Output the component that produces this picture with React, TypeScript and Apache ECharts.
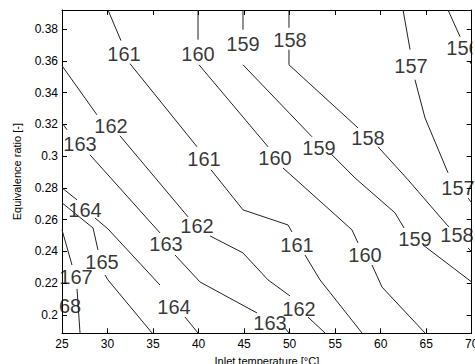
import React, { useEffect, useRef } from "react";
import * as echarts from "echarts";

// Axis ranges and ticks
const xTicks = [25, 30, 35, 40, 45, 50, 55, 60, 65, 70];
const yTicks = [0.2, 0.22, 0.24, 0.26, 0.28, 0.3, 0.32, 0.34, 0.36, 0.38];
const xRange = [25, 70];
const yRange = [0.1885, 0.392];

// Contour lines (segments broken where inline labels sit), [temperature, ratio]
const c156 = [
  [[67.4, 0.392], [68.72, 0.3752]],
  [[69.82, 0.3594], [70, 0.3575]],
];
const c157 = [
  [[62.46, 0.392], [63.23, 0.367]],
  [[63.77, 0.3481], [64.87, 0.3241], [67.4, 0.2895]],
  [[69.6, 0.2737], [70, 0.2706]],
];
const c158 = [
  [[49.93, 0.392], [49.93, 0.3808]],
  [[49.93, 0.367], [49.93, 0.3575], [57.51, 0.3178]],
  [[59.71, 0.3059], [63.01, 0.2851], [67.29, 0.2567], [67.51, 0.2555]],
  [[69.6, 0.2422], [70, 0.2397]],
];
const c159 = [
  [[44.88, 0.392], [44.88, 0.3796]],
  [[44.88, 0.3575], [52.46, 0.3122]],
  [[54.66, 0.3008], [57.18, 0.2863], [61.58, 0.2643], [62.57, 0.2548]],
  [[64.65, 0.2441], [70, 0.2208]],
];
const c160 = [
  [[39.94, 0.392], [39.94, 0.3733]],
  [[40.05, 0.3575], [47.63, 0.3059]],
  [[49.27, 0.2926], [54.66, 0.2649], [56.85, 0.2536], [57.51, 0.2454]],
  [[59.05, 0.2315], [60.15, 0.2176], [64.87, 0.1887]],
];
const c161 = [
  [[30.05, 0.392], [31.48, 0.3727]],
  [[32.47, 0.3582], [39.83, 0.3059]],
  [[41.37, 0.2914], [44.88, 0.2662], [49.82, 0.2567], [50.26, 0.2523]],
  [[51.69, 0.2378], [53.34, 0.2221], [57.95, 0.1887]],
];
const c162 = [
  [[25, 0.3569], [28.84, 0.326]],
  [[31.37, 0.3128], [38.84, 0.2618]],
  [[41.26, 0.2498], [44.88, 0.2391], [47.63, 0.2221], [50.04, 0.212]],
  [[52.02, 0.1987], [53.89, 0.1887]],
];
const c163 = [
  [[25, 0.321], [25.55, 0.3166]],
  [[28.08, 0.3008], [35.76, 0.2517]],
  [[37.41, 0.2378], [40.16, 0.2208], [46.42, 0.2013]],
  [[49.49, 0.1918], [49.93, 0.1887]],
];
const c164 = [
  [[25, 0.28], [26.65, 0.2725]],
  [[28.62, 0.2611], [30.05, 0.2542], [35.76, 0.2189]],
  [[38.51, 0.1987], [39.94, 0.1887]],
];
const c165 = [
  [[25, 0.2706], [28.41, 0.2548], [28.95, 0.241]],
  [[29.72, 0.2252], [30.05, 0.2221], [34.89, 0.1887]],
];
const c167 = [
  [[25, 0.2536], [26.1, 0.2315]],
  [[26.65, 0.2164], [26.98, 0.1887]],
];

// Inline contour labels: [temperature, ratio, text]
const contourLabels = [
  [31.81, 0.3645, "161"],
  [39.94, 0.3645, "160"],
  [44.88, 0.3708, "159"],
  [50.04, 0.3733, "158"],
  [63.33, 0.3569, "157"],
  [69.04, 0.3682, "156"],
  [30.38, 0.3191, "162"],
  [26.98, 0.3078, "163"],
  [40.6, 0.2983, "161"],
  [48.4, 0.2989, "160"],
  [53.23, 0.3052, "159"],
  [58.61, 0.3115, "158"],
  [27.53, 0.2662, "164"],
  [39.83, 0.2561, "162"],
  [36.42, 0.2447, "163"],
  [29.39, 0.2334, "165"],
  [26.54, 0.2239, "167"],
  [25.88, 0.2057, "68"],
  [37.3, 0.205, "164"],
  [68.5, 0.28, "157"],
  [63.77, 0.2479, "159"],
  [68.39, 0.2504, "158"],
  [50.81, 0.2441, "161"],
  [58.28, 0.2378, "160"],
  [51.03, 0.2038, "162"],
  [47.85, 0.195, "163"],
];

const contours = [c156, c157, c158, c159, c160, c161, c162, c163, c164, c165, c167];

const FONT = "'Liberation Sans Narrow', 'Liberation Sans', Arial, sans-serif";
const AXFONT = "'Liberation Sans', Arial, sans-serif";

export default function App() {
  const ref = useRef<HTMLDivElement>(null);
  useEffect(() => {
    document.body.style.margin = "0";
    if (!ref.current) return;
    const chart = echarts.init(ref.current, null, { renderer: "svg" });
    const lineSeries: any[] = [];
    contours.forEach((c) =>
      c.forEach((seg) =>
        lineSeries.push({
          type: "line",
          data: seg,
          showSymbol: false,
          symbol: "none",
          silent: true,
          lineStyle: { color: "#222", width: 1 },
          xAxisIndex: 0,
          yAxisIndex: 0,
        })
      )
    );
    const axisLine = { show: true, lineStyle: { color: "#000", width: 1 } };
    const tick = { show: true, inside: true, length: 5, lineStyle: { color: "#000" } };
    chart.setOption({
      animation: false,
      backgroundColor: "#fff",
      grid: { left: 62, right: 3.3, top: 10, bottom: 30.7, containLabel: false, outerBoundsMode: "none" },
      graphic: [
        {
          type: "rect",
          right: 0,
          top: 36,
          shape: { width: 2.6, height: 24 },
          style: { fill: "#fff" },
          z: 100,
        },
      ],
      xAxis: [
        {
          type: "value",
          min: xRange[0],
          max: xRange[1],
          interval: 5,
          position: "bottom",
          axisLine,
          axisTick: tick,
          splitLine: { show: false },
          axisLabel: { fontSize: 12, color: "#000", margin: 5, fontFamily: AXFONT },
          name: "Inlet temperature [°C]",
          nameLocation: "middle",
          nameGap: 20,
          nameTextStyle: { fontSize: 11, color: "#000", fontFamily: AXFONT },
        },
        {
          type: "value",
          min: xRange[0],
          max: xRange[1],
          interval: 5,
          position: "top",
          axisLine,
          axisTick: tick,
          splitLine: { show: false },
          axisLabel: { show: false },
        },
      ],
      yAxis: [
        {
          type: "value",
          min: yRange[0],
          max: yRange[1],
          position: "left",
          axisLine,
          axisTick: { ...tick, customValues: yTicks },
          splitLine: { show: false },
          axisLabel: {
            customValues: yTicks,
            fontSize: 12,
            color: "#000",
            margin: 4,
            fontFamily: AXFONT,
            formatter: (v: number) => String(+v.toFixed(2)),
          },
          name: "Equivalence ratio [-]",
          nameLocation: "middle",
          nameGap: 40,
          nameTextStyle: { fontSize: 11, color: "#000", fontFamily: AXFONT },
        },
        {
          type: "value",
          min: yRange[0],
          max: yRange[1],
          position: "right",
          axisLine,
          axisTick: { ...tick, customValues: yTicks },
          splitLine: { show: false },
          axisLabel: { show: false },
        },
      ],
      series: [
        ...lineSeries,
        {
          type: "scatter",
          data: contourLabels,
          symbolSize: 0,
          silent: true,
          xAxisIndex: 0,
          yAxisIndex: 0,
          clip: false,
          label: {
            show: true,
            position: "inside",
            formatter: (p: any) => p.data[2],
            fontSize: 20,
            color: "#000",
            fontFamily: FONT,
          },
        },
      ],
    });
    return () => chart.dispose();
  }, []);
  return <div ref={ref} style={{ width: 475, height: 364 }} />;
}
